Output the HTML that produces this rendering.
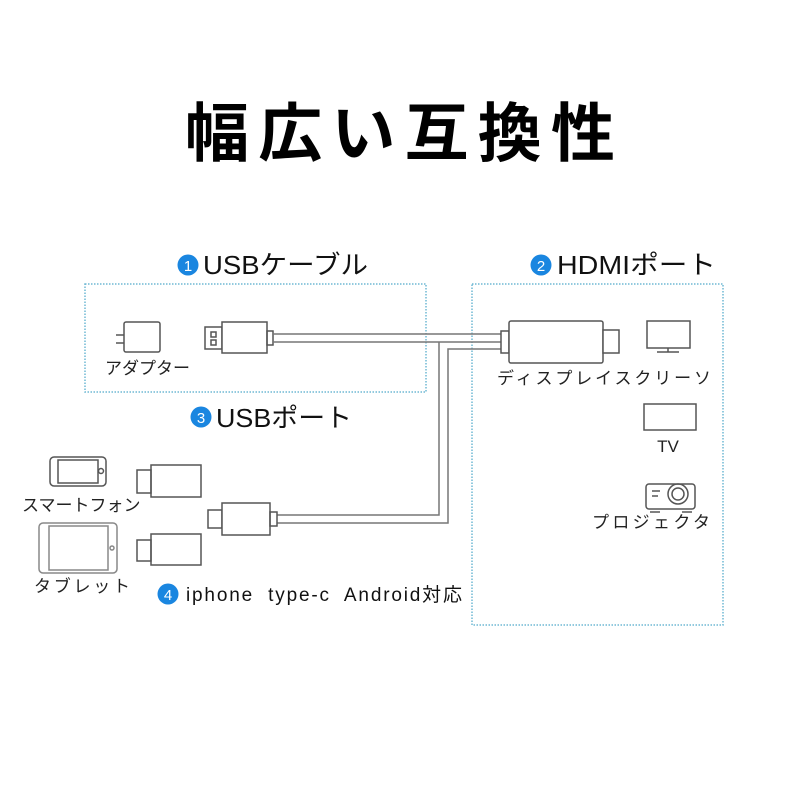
<!DOCTYPE html>
<html><head><meta charset="utf-8"><style>
html,body{margin:0;padding:0;background:#fff;}
svg{display:block;}
text{font-family:"Liberation Sans","Noto Sans CJK JP",sans-serif;}
</style></head><body>
<svg width="800" height="800" viewBox="0 0 800 800" xmlns="http://www.w3.org/2000/svg">
<rect width="800" height="800" fill="#fff"/>
<text x="400" y="156" text-anchor="middle" font-size="64" font-weight="bold" textLength="430" lengthAdjust="spacing" font-family="'Noto Sans CJK JP',sans-serif" fill="#000">幅広い互換性</text>

<g fill="none" stroke="#6fb8d4" stroke-width="1.5" stroke-dasharray="1.5,1.5">
<rect x="85" y="284" width="341" height="108"/>
<rect x="472" y="284" width="251" height="341"/>
</g>

<g font-size="26" fill="#111">
<circle cx="188" cy="265" r="10.5" fill="#1a86e0"/><text x="188" y="271" font-size="15" fill="#fff" text-anchor="middle">1</text>
<text x="203" y="274" textLength="165" lengthAdjust="spacingAndGlyphs">USBケーブル</text>
<circle cx="541" cy="265" r="10.5" fill="#1a86e0"/><text x="541" y="271" font-size="15" fill="#fff" text-anchor="middle">2</text>
<text x="557" y="274" textLength="159" lengthAdjust="spacingAndGlyphs">HDMIポート</text>
<circle cx="201" cy="417" r="10.5" fill="#1a86e0"/><text x="201" y="423" font-size="15" fill="#fff" text-anchor="middle">3</text>
<text x="216" y="427" textLength="136" lengthAdjust="spacingAndGlyphs">USBポート</text>
</g>
<circle cx="168" cy="594" r="10.5" fill="#1a86e0"/><text x="168" y="600" font-size="15" fill="#fff" text-anchor="middle">4</text>
<text x="186" y="601" font-size="19" fill="#111" textLength="276" lengthAdjust="spacing" xml:space="preserve">iphone  type-c  Android対応</text>

<g font-size="17" fill="#222">
<text x="105" y="374">アダプター</text>
<text x="497" y="384" textLength="214" lengthAdjust="spacing">ディスプレイスクリーソ</text>
<text x="668" y="452" text-anchor="middle">TV</text>
<text x="592" y="528" textLength="118" lengthAdjust="spacing">プロジェクタ</text>
<text x="22" y="511">スマートフォン</text>
<text x="34" y="592" textLength="96" lengthAdjust="spacing">タブレット</text>
</g>

<g fill="none" stroke="#555" stroke-width="1.5">
<rect x="124" y="322" width="36" height="30" rx="2" fill="#fff"/>
<line x1="116" y1="335" x2="124" y2="335"/><line x1="116" y1="343" x2="124" y2="343"/>
<rect x="205" y="327" width="17" height="22" fill="#fff"/>
<rect x="211" y="332" width="5" height="5"/><rect x="211" y="340" width="5" height="5"/>
<rect x="222" y="322" width="45" height="31" fill="#fff"/>
<rect x="267" y="331" width="6" height="14"/>
<line x1="273" y1="334" x2="501" y2="334" stroke="#777"/>
<line x1="273" y1="342" x2="501" y2="342" stroke="#777"/>
<polyline points="501,349 448,349 448,523 277,523" stroke="#777"/>
<polyline points="439,342 439,515 277,515" stroke="#777"/>
<rect x="501" y="331" width="8" height="22" fill="#fff"/>
<rect x="509" y="321" width="94" height="42" rx="2" fill="#fff"/>
<rect x="603" y="330" width="16" height="23" fill="#fff"/>
<rect x="647" y="321" width="43" height="27"/>
<line x1="668" y1="348" x2="668" y2="352"/><line x1="657" y1="352" x2="679" y2="352"/>
<rect x="644" y="404" width="52" height="26"/>
<rect x="646" y="484" width="49" height="25" rx="3"/>
<circle cx="678" cy="494" r="10"/><circle cx="678" cy="494" r="6"/>
<line x1="652" y1="491" x2="660" y2="491"/><line x1="652" y1="496" x2="658" y2="496"/>
<line x1="650" y1="512" x2="660" y2="512"/><line x1="682" y1="512" x2="692" y2="512"/>
<rect x="50" y="457" width="56" height="29" rx="4"/>
<rect x="58" y="460" width="40" height="23"/>
<circle cx="101" cy="471" r="2.5"/>
<rect x="39" y="523" width="78" height="50" rx="4" stroke="#888"/>
<rect x="49" y="526" width="59" height="44" stroke="#888"/>
<circle cx="112" cy="548" r="2" stroke="#888"/>
<rect x="137" y="470" width="14" height="23"/><rect x="151" y="465" width="50" height="32"/>
<rect x="137" y="540" width="14" height="21"/><rect x="151" y="534" width="50" height="31"/>
<rect x="208" y="510" width="14" height="18"/><rect x="222" y="503" width="48" height="32" fill="#fff"/>
<rect x="270" y="512" width="7" height="14"/>
</g>
</svg>
</body></html>
